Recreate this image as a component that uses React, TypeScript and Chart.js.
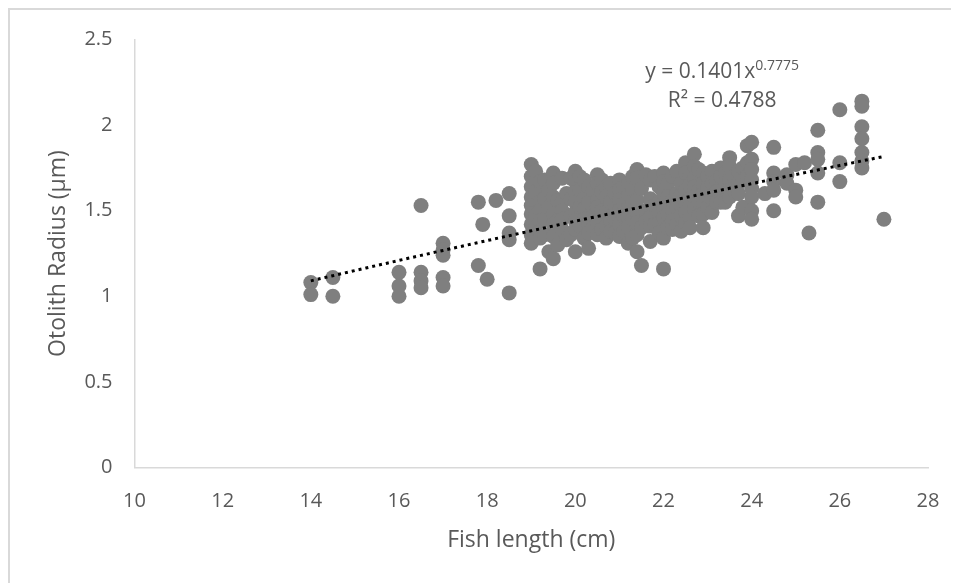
import React, { useEffect, useRef } from "react";
import { Chart, registerables } from "chart.js";

Chart.register(...registerables);

// Fish length (cm) columns and the otolith radius (µm) values observed at each length
const lengthsCm: number[] = [
  14, 14.5, 16, 16.5, 17, 17.8, 17.9, 18, 18.2, 18.5,
  19, 19.1, 19.2, 19.3, 19.4, 19.5, 19.6, 19.7, 19.8, 19.9,
  20, 20.1, 20.2, 20.3, 20.4, 20.5, 20.6, 20.7, 20.8, 20.9,
  21, 21.1, 21.2, 21.3, 21.4, 21.5, 21.6, 21.7, 21.8, 21.9,
  22, 22.1, 22.2, 22.3, 22.4, 22.5, 22.6, 22.7, 22.8, 22.9,
  23, 23.1, 23.2, 23.3, 23.4, 23.5, 23.6, 23.7, 23.8, 23.9,
  24, 24.3, 24.5, 24.8, 25, 25.2, 25.3, 25.5, 26, 26.5, 27,
];

const radiiUm: number[][] = [
  [1.08, 1.01],
  [1.11, 1.0],
  [1.14, 1.06, 1.0],
  [1.53, 1.14, 1.09, 1.05],
  [1.31, 1.27, 1.24, 1.11, 1.06],
  [1.55, 1.18],
  [1.42],
  [1.1],
  [1.56],
  [1.6, 1.47, 1.37, 1.33, 1.02],
  [1.77, 1.7, 1.64, 1.58, 1.53, 1.48, 1.42, 1.36, 1.31],
  [1.73, 1.61, 1.47, 1.4],
  [1.67, 1.55, 1.5, 1.44, 1.38, 1.34, 1.16],
  [1.68, 1.57, 1.45, 1.36],
  [1.62, 1.52, 1.26],
  [1.72, 1.66, 1.58, 1.48, 1.42, 1.35, 1.22],
  [1.56, 1.44, 1.3],
  [1.69, 1.55, 1.5, 1.45, 1.39],
  [1.6, 1.33],
  [1.69, 1.57, 1.47, 1.36],
  [1.73, 1.67, 1.61, 1.55, 1.49, 1.44, 1.39, 1.26],
  [1.7, 1.62, 1.52, 1.41],
  [1.68, 1.57, 1.51, 1.45, 1.34],
  [1.64, 1.55, 1.43, 1.37, 1.28],
  [1.62, 1.47, 1.4],
  [1.71, 1.66, 1.56, 1.52, 1.43, 1.36],
  [1.68, 1.61, 1.5, 1.39],
  [1.64, 1.58, 1.49, 1.41, 1.34],
  [1.66, 1.55, 1.44, 1.38],
  [1.6, 1.53, 1.45, 1.37],
  [1.68, 1.62, 1.56, 1.5, 1.42, 1.35],
  [1.64, 1.54, 1.47, 1.38],
  [1.66, 1.59, 1.52, 1.46, 1.4, 1.31],
  [1.7, 1.62, 1.55, 1.45, 1.34],
  [1.74, 1.69, 1.56, 1.49, 1.43, 1.36, 1.26],
  [1.63, 1.4, 1.18],
  [1.71, 1.5, 1.44],
  [1.68, 1.57, 1.52, 1.46, 1.41, 1.32],
  [1.7, 1.53, 1.42],
  [1.64, 1.55, 1.49, 1.43, 1.37],
  [1.72, 1.67, 1.6, 1.52, 1.46, 1.34, 1.16],
  [1.66, 1.58, 1.48, 1.4],
  [1.7, 1.56, 1.5, 1.44, 1.39],
  [1.73, 1.6, 1.52, 1.42],
  [1.66, 1.59, 1.53, 1.47, 1.38],
  [1.78, 1.72, 1.62, 1.55, 1.49, 1.43],
  [1.7, 1.65, 1.57, 1.46, 1.4],
  [1.83, 1.76, 1.69, 1.64, 1.58, 1.51],
  [1.74, 1.62, 1.55, 1.47],
  [1.72, 1.66, 1.6, 1.54, 1.48, 1.4],
  [1.7, 1.63, 1.52],
  [1.73, 1.66, 1.57, 1.49],
  [1.67, 1.61, 1.55],
  [1.75, 1.7, 1.55],
  [1.72, 1.64, 1.55],
  [1.81, 1.76, 1.68, 1.62, 1.58],
  [1.7, 1.62],
  [1.73, 1.66, 1.6, 1.47],
  [1.75, 1.68, 1.52],
  [1.88, 1.78, 1.7],
  [1.9, 1.8, 1.74, 1.68, 1.63, 1.58, 1.5, 1.45],
  [1.6],
  [1.87, 1.72, 1.67, 1.62, 1.5],
  [1.71, 1.66],
  [1.77, 1.62, 1.58],
  [1.78],
  [1.37],
  [1.97, 1.84, 1.8, 1.72, 1.55],
  [2.09, 1.78, 1.67],
  [2.14, 2.11, 1.99, 1.92, 1.84, 1.79, 1.75],
  [1.45],
];

// Power trendline shown on the chart: y = 0.1401 x^0.7775, R² = 0.4788
const trendCoef = 0.1401;
const trendExp = 0.7775;
const trendR2 = "0.4788";
const trendFromCm = 14;
const trendToCm = 27;

const xTicks: number[] = [10, 12, 14, 16, 18, 20, 22, 24, 26, 28];
const yTicks: number[] = [0, 0.5, 1, 1.5, 2, 2.5];

const xTitle = "Fish length (cm)";
const yTitle = "Otolith Radius (μm)";

const TEXT = "#595959";
const FONT = "'Open Sans', 'Liberation Sans', sans-serif";

export default function App() {
  const canvasRef = useRef<HTMLCanvasElement | null>(null);

  useEffect(() => {
    const canvas = canvasRef.current;
    if (!canvas) return;

    const points: { x: number; y: number }[] = [];
    lengthsCm.forEach((len, i) => {
      radiiUm[i].forEach((r) => points.push({ x: len, y: r }));
    });

    const trend: { x: number; y: number }[] = [];
    for (let x = trendFromCm; x <= trendToCm + 1e-9; x += 0.25) {
      trend.push({ x, y: trendCoef * Math.pow(x, trendExp) });
    }

    const labels = {
      id: "trendLabel",
      afterDatasetsDraw(chart: any) {
        const { ctx, scales, chartArea } = chart;
        ctx.save();
        ctx.fillStyle = TEXT;

        // y-axis title
        ctx.save();
        ctx.translate(chartArea.left - 76.5, (chartArea.top + chartArea.bottom) / 2);
        ctx.rotate(-Math.PI / 2);
        ctx.font = `23px ${FONT}`;
        ctx.textAlign = "center";
        ctx.textBaseline = "middle";
        ctx.fillText(yTitle, 0, 0);
        ctx.restore();

        // trendline equation
        const cx = scales.x.getPixelForValue(23.33);
        const base2 = scales.y.getPixelForValue(2.106);
        const base1 = base2 - 29;
        ctx.textBaseline = "alphabetic";
        const mainFont = `21px ${FONT}`;
        const supFont = `14px ${FONT}`;
        const main = `y = ${trendCoef}x`;
        const sup = `${trendExp}`;
        ctx.font = mainFont;
        const wMain = ctx.measureText(main).width;
        ctx.font = supFont;
        const wSup = ctx.measureText(sup).width;
        const start = cx - (wMain + wSup) / 2;
        ctx.textAlign = "left";
        ctx.font = mainFont;
        ctx.fillText(main, start, base1);
        ctx.font = supFont;
        ctx.fillText(sup, start + wMain, base1 - 8);
        ctx.font = mainFont;
        ctx.textAlign = "center";
        ctx.fillText(`R² = ${trendR2}`, cx, base2);
        ctx.restore();
      },
    };

    const chart = new Chart(canvas, {
      type: "scatter",
      data: {
        datasets: [
          {
            type: "line",
            label: "Power trendline",
            data: trend,
            borderColor: "#000000",
            borderWidth: 3,
            borderDash: [3, 4],
            borderCapStyle: "butt",
            pointRadius: 0,
            fill: false,
            tension: 0,
            order: 0,
          } as any,
          {
            label: "Otolith radius",
            data: points,
            backgroundColor: "#7f7f7f",
            borderWidth: 0,
            pointRadius: 7.5,
            pointHoverRadius: 7.5,
            order: 1,
          },
        ],
      },
      options: {
        responsive: false,
        animation: false,
        events: [],
        layout: { padding: { left: 0, top: 29.5, right: 31, bottom: 0 } },
        plugins: {
          legend: { display: false },
          tooltip: { enabled: false },
        },
        scales: {
          x: {
            type: "linear",
            min: 10,
            max: 28,
            afterBuildTicks: (s: any) => {
              s.ticks = xTicks.map((v) => ({ value: v }));
            },
            afterFit: (s: any) => {
              s.height = 115.5;
              s.paddingLeft = 0;
              s.paddingRight = 0;
            },
            grid: { display: false, drawTicks: false, tickLength: 0 },
            border: { display: true, color: "#d9d9d9", width: 1.5 },
            ticks: {
              color: TEXT,
              font: { family: FONT, size: 20 },
              padding: 22,
              maxRotation: 0,
              autoSkip: false,
            },
            title: {
              display: true,
              text: xTitle,
              color: TEXT,
              font: { family: FONT, size: 23 },
              padding: { top: 0, bottom: 29 },
            },
          },
          y: {
            type: "linear",
            min: 0,
            max: 2.5,
            afterBuildTicks: (s: any) => {
              s.ticks = yTicks.map((v) => ({ value: v }));
            },
            afterFit: (s: any) => {
              s.width = 124.5;
              s.paddingTop = 0;
              s.paddingBottom = 0;
            },
            grid: { display: false, drawTicks: false, tickLength: 0 },
            border: { display: true, color: "#d9d9d9", width: 1.5 },
            ticks: {
              color: TEXT,
              font: { family: FONT, size: 20 },
              padding: 22,
              autoSkip: false,
              callback: (v: any) => String(v),
            },
            title: { display: false },
          },
        },
      },
      plugins: [labels],
    });

    return () => chart.destroy();
  }, []);

  return (
    <div
      style={{
        position: "relative",
        width: 951,
        height: 575,
        boxSizing: "border-box",
        borderLeft: "2px solid #d9d9d9",
        borderTop: "2px solid #d9d9d9",
        background: "#ffffff",
      }}
    >
      <canvas ref={canvasRef} width={949} height={573} style={{ display: "block" }} />
    </div>
  );
}
